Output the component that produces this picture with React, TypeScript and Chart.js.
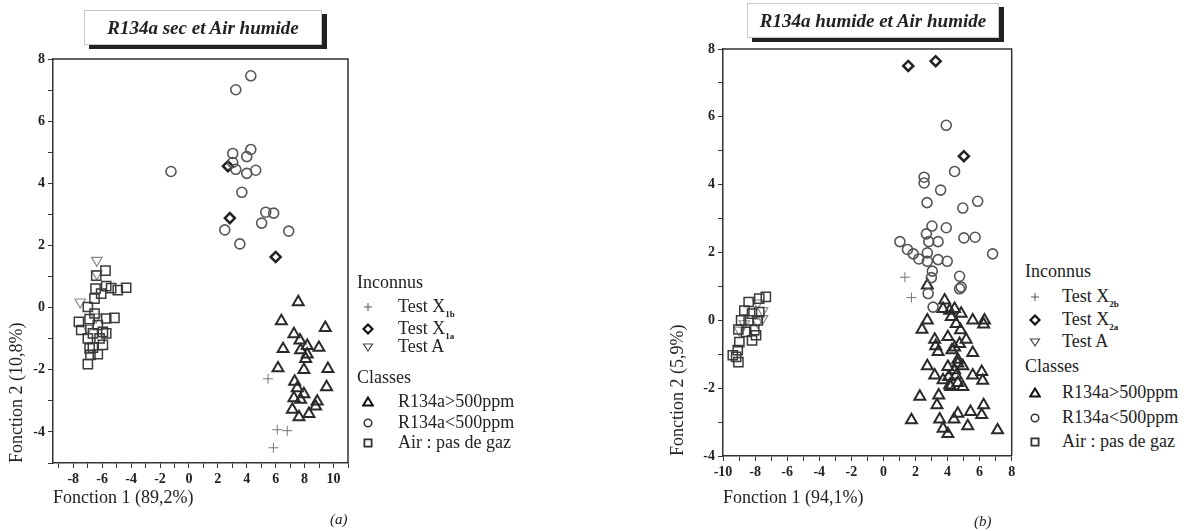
import React, { useEffect, useRef } from 'react';
import { Chart, registerables } from 'chart.js';

Chart.register(...registerables);

type Pt = { x: number; y: number };
const toPts = (a: number[][]): Pt[] => a.map(([x, y]) => ({ x, y }));

// ---------- Chart (a): R134a sec et Air humide ----------
const aTitle = 'R134a sec et Air humide';
const aXTitle = 'Fonction 1 (89,2%)';
const aYTitle = 'Fonction 2 (10,8%)';
const aXRange = [-9.4, 11];
const aYRange = [-5, 8];

const aX1b = [[5.47, -2.29], [6.11, -3.93], [6.8, -3.96], [5.84, -4.51]];
const aX1a = [[2.83, 2.88], [6.0, 1.63], [2.7, 4.55]];
const aTestA = [[-6.37, 1.52], [-6.37, 1.09], [-7.52, 0.18], [-6.41, -0.3], [-6.99, -0.67]];
const aHigh = [
  [7.56, 0.18], [6.39, -0.43], [9.43, -0.65], [7.26, -0.85], [7.68, -1.05], [8.18, -1.23],
  [6.51, -1.33], [8.99, -1.29], [7.72, -1.37], [8.18, -1.5], [8.07, -1.65], [6.16, -1.95],
  [7.95, -2.0], [9.61, -1.97], [7.31, -2.38], [9.52, -2.56], [7.49, -2.59], [7.95, -2.78],
  [7.26, -2.91], [7.72, -2.96], [8.87, -3.02], [8.76, -3.18], [7.15, -3.28], [8.3, -3.42],
  [7.61, -3.52],
];
const aLow = [
  [4.28, 7.46], [3.24, 7.01], [3.03, 4.96], [4.28, 5.09], [4.0, 4.86], [3.03, 4.67],
  [3.24, 4.45], [4.0, 4.32], [4.62, 4.42], [3.66, 3.71], [5.31, 3.07], [5.86, 3.04],
  [5.03, 2.72], [2.48, 2.5], [6.9, 2.46], [3.52, 2.05], [-1.24, 4.38],
];
const aAir = [
  [-5.77, 1.19], [-6.41, 1.03], [-6.46, 0.61], [-5.72, 0.69], [-5.38, 0.63], [-4.92, 0.56],
  [-4.34, 0.64], [-6.07, 0.45], [-6.53, 0.29], [-6.99, 0.02], [-6.53, -0.19], [-5.72, -0.35],
  [-5.15, -0.33], [-6.87, -0.37], [-7.61, -0.46], [-7.45, -0.72], [-6.3, -0.56], [-5.95, -0.78],
  [-6.64, -0.83], [-5.72, -0.83], [-6.99, -0.99], [-6.18, -0.99], [-5.95, -1.2], [-6.64, -1.29],
  [-6.87, -1.31], [-6.3, -1.5], [-6.81, -1.52], [-6.99, -1.82],
];

// ---------- Chart (b): R134a humide et Air humide ----------
const bTitle = 'R134a humide et Air humide';
const bXTitle = 'Fonction 1 (94,1%)';
const bYTitle = 'Fonction 2 (5,9%)';
const bXRange = [-10, 8];
const bYRange = [-4, 8];

const bX2b = [[1.34, 1.27], [1.75, 0.67]];
const bX2a = [[1.55, 7.5], [3.26, 7.64], [5.02, 4.84]];
const bTestA = [[-7.84, 0.51], [-7.53, 0.29], [-7.84, -0.05], [-8.98, -0.29], [-8.67, -0.1], [-7.53, 0.05]];
const bHigh = [
  [2.74, 1.03], [3.82, 0.59], [3.72, 0.34], [4.13, 0.29], [4.44, 0.34], [4.85, 0.2],
  [4.23, 0.1], [4.54, -0.1], [5.57, 0.0], [6.3, 0.0], [6.25, -0.12], [2.74, 0.0],
  [2.41, -0.27], [4.81, -0.29], [4.02, -0.49], [3.2, -0.57], [5.16, -0.57], [4.75, -0.69],
  [3.26, -0.76], [4.44, -0.8], [3.41, -0.93], [4.27, -0.88], [5.57, -0.96], [4.64, -1.16],
  [4.64, -1.27], [4.02, -1.37], [4.95, -1.35], [2.74, -1.35], [4.44, -1.47], [3.2, -1.62],
  [4.07, -1.67], [4.54, -1.62], [5.57, -1.62], [6.13, -1.52], [6.19, -1.78], [3.72, -1.76],
  [4.13, -1.91], [4.64, -1.84], [4.95, -1.96], [4.19, -1.96], [2.27, -2.25], [3.45, -2.21],
  [3.34, -2.5], [1.75, -2.94], [3.51, -2.92], [4.64, -2.75], [4.4, -2.92], [5.43, -2.7],
  [6.25, -2.5], [6.13, -2.79], [3.72, -3.19], [4.02, -3.35], [5.26, -3.12], [7.12, -3.24],
];
const bLow = [
  [3.92, 5.75], [4.44, 4.39], [2.54, 4.22], [2.54, 4.05], [3.57, 3.84], [2.72, 3.47],
  [5.88, 3.51], [4.95, 3.31], [3.03, 2.78], [3.92, 2.73], [2.68, 2.55], [2.83, 2.32],
  [3.41, 2.32], [5.02, 2.43], [5.72, 2.45], [1.03, 2.32], [1.5, 2.09], [1.86, 1.96],
  [2.21, 1.81], [2.74, 1.99], [2.74, 1.74], [3.41, 1.79], [3.98, 1.74], [6.81, 1.96],
  [3.05, 1.45], [2.99, 1.26], [4.75, 1.3], [4.85, 0.98], [4.75, 0.93], [2.79, 0.79],
  [3.1, 0.39],
];
const bAir = [
  [-8.4, 0.54], [-7.74, 0.64], [-7.33, 0.69], [-8.67, 0.29], [-8.19, 0.2], [-7.74, 0.24],
  [-8.87, 0.0], [-8.4, 0.0], [-7.84, 0.0], [-9.04, -0.27], [-8.56, -0.34], [-8.05, -0.29],
  [-7.94, -0.44], [-8.19, -0.59], [-8.98, -0.64], [-9.08, -0.88], [-9.39, -1.03], [-9.18, -1.08],
  [-9.04, -1.23],
];

// ---------- Styling ----------
const SERIF = '"Liberation Serif", "DejaVu Serif", serif';
const TRANSPARENT = 'rgba(0,0,0,0)';

const styles = {
  plus: { pointStyle: 'cross', pointRadius: 5, borderWidth: 1, borderColor: '#777' },
  diamond: { pointStyle: 'rectRot', pointRadius: 5, borderWidth: 2.5, borderColor: '#222' },
  testA: { pointStyle: 'triangle', rotation: 180, pointRadius: 6, borderWidth: 1.2, borderColor: '#888' },
  high: { pointStyle: 'triangle', pointRadius: 6.3, borderWidth: 2, borderColor: '#2a2a2a' },
  low: { pointStyle: 'circle', pointRadius: 5, borderWidth: 1.6, borderColor: '#555' },
  air: { pointStyle: 'rect', pointRadius: 6.5, borderWidth: 1.5, borderColor: '#3a3a3a' },
};

function ds(label: string, data: number[][], st: any) {
  return {
    label,
    data: toPts(data),
    pointStyle: st.pointStyle,
    pointRadius: st.pointRadius,
    pointHoverRadius: st.pointRadius,
    pointRotation: st.rotation || 0,
    pointBorderWidth: st.borderWidth,
    borderColor: st.borderColor,
    pointBorderColor: st.borderColor,
    backgroundColor: TRANSPARENT,
    pointBackgroundColor: TRANSPARENT,
    showLine: false,
  };
}

const framePlugin = {
  id: 'frame',
  afterDraw(chart: any) {
    const { ctx, chartArea } = chart;
    const { left, top, right, bottom } = chartArea;
    ctx.save();
    ctx.strokeStyle = '#333';
    ctx.lineWidth = 1.5;
    ctx.beginPath();
    ctx.moveTo(left, top);
    ctx.lineTo(right, top);
    ctx.lineTo(right, bottom);
    ctx.stroke();
    ctx.restore();
  },
};

const evenLabel = (v: any) => {
  const n = Number(v);
  return Number.isInteger(n) && n % 2 === 0 ? String(n) : '';
};

interface ChartSpec {
  width: number;
  height: number;
  padding: { left: number; right: number; top: number; bottom: number };
  yWidth: number;
  xHeight: number;
  xRange: number[];
  yRange: number[];
  xTitle: string;
  yTitle: string;
  yTitlePad: number;
  xTitlePad: number;
  datasets: any[];
}

function ScatterPanel({ spec, left }: { spec: ChartSpec; left: number }) {
  const ref = useRef<HTMLCanvasElement | null>(null);
  useEffect(() => {
    if (!ref.current) return;
    const tickFont = { family: SERIF, size: 14, weight: 'bold' as const };
    const titleFont = { family: SERIF, size: 18 };
    const chart = new Chart(ref.current, {
      type: 'scatter',
      data: { datasets: spec.datasets },
      options: {
        animation: false,
        responsive: false,
        maintainAspectRatio: false,
        events: [],
        layout: { padding: spec.padding },
        plugins: { legend: { display: false }, tooltip: { enabled: false }, title: { display: false } },
        scales: {
          x: {
            type: 'linear',
            min: spec.xRange[0],
            max: spec.xRange[1],
            afterFit: (s: any) => { s.height = spec.xHeight; },
            grid: { display: true, drawOnChartArea: false, drawTicks: true, tickLength: 5, color: '#333', tickColor: '#333' },
            border: { display: true, color: '#333', width: 1.5 },
            ticks: {
              stepSize: 1,
              autoSkip: false,
              includeBounds: false,
              maxRotation: 0,
              padding: 3,
              color: '#222',
              font: tickFont,
              callback: evenLabel,
            },
            title: {
              display: true,
              text: spec.xTitle,
              align: 'start',
              color: '#222',
              font: titleFont,
              padding: { top: 0, bottom: spec.xTitlePad },
            },
          },
          y: {
            type: 'linear',
            min: spec.yRange[0],
            max: spec.yRange[1],
            afterFit: (s: any) => { s.width = spec.yWidth; },
            grid: { display: true, drawOnChartArea: false, drawTicks: true, tickLength: 5, color: '#333', tickColor: '#333' },
            border: { display: true, color: '#333', width: 1.5 },
            ticks: {
              stepSize: 1,
              autoSkip: false,
              includeBounds: false,
              padding: 3,
              color: '#222',
              font: tickFont,
              callback: evenLabel,
            },
            title: {
              display: true,
              text: spec.yTitle,
              align: 'start',
              color: '#222',
              font: titleFont,
              padding: { top: spec.yTitlePad, bottom: 0 },
            },
          },
        },
      },
      plugins: [framePlugin],
    } as any);
    return () => chart.destroy();
  }, [spec]);
  return (
    <canvas
      ref={ref}
      width={spec.width}
      height={spec.height}
      style={{ position: 'absolute', left, top: 0, width: spec.width, height: spec.height }}
    />
  );
}

function Marker({ kind }: { kind: string }) {
  const s = 12;
  const c = s / 2;
  let shape: any = null;
  if (kind === 'plus') {
    shape = <path d={`M${c - 4} ${c} H${c + 4} M${c} ${c - 4} V${c + 4}`} stroke="#555" strokeWidth={1} fill="none" />;
  } else if (kind === 'diamond') {
    shape = <path d={`M${c} ${c - 4.5} L${c + 4.5} ${c} L${c} ${c + 4.5} L${c - 4.5} ${c} Z`} stroke="#111" strokeWidth={2.2} fill="none" />;
  } else if (kind === 'testA') {
    shape = <path d={`M${c - 4.5} ${c - 3} L${c + 4.5} ${c - 3} L${c} ${c + 4} Z`} stroke="#444" strokeWidth={1.2} fill="none" />;
  } else if (kind === 'high') {
    shape = <path d={`M${c} ${c - 4.5} L${c + 4.8} ${c + 3.5} L${c - 4.8} ${c + 3.5} Z`} stroke="#111" strokeWidth={2} fill="none" />;
  } else if (kind === 'low') {
    shape = <circle cx={c} cy={c} r={3.8} stroke="#333" strokeWidth={1.5} fill="none" />;
  } else {
    shape = <rect x={c - 3.6} y={c - 3.6} width={7.2} height={7.2} stroke="#333" strokeWidth={1.8} fill="none" />;
  }
  return (
    <svg width={s} height={s} style={{ position: 'absolute', left: -6, top: -6 }}>
      {shape}
    </svg>
  );
}

interface LegendRow { kind?: string; text: string; sub?: string; y: number }

function Legend({ x, markerX, textX, rows, fontSize }: { x: number; markerX: number; textX: number; rows: LegendRow[]; fontSize: number }) {
  return (
    <>
      {rows.map((r, i) => (
        <React.Fragment key={i}>
          {r.kind ? (
            <div style={{ position: 'absolute', left: markerX, top: r.y }}>
              <Marker kind={r.kind} />
            </div>
          ) : null}
          <div
            style={{
              position: 'absolute',
              left: r.kind ? textX : x,
              top: r.y - fontSize * 0.62,
              fontFamily: SERIF,
              fontSize,
              color: '#222',
              whiteSpace: 'nowrap',
              lineHeight: 1.2,
            }}
          >
            {r.text}
            {r.sub ? <span style={{ fontSize: 9, fontWeight: 'bold', position: 'relative', top: 5 }}>{r.sub}</span> : null}
          </div>
        </React.Fragment>
      ))}
    </>
  );
}

function TitleBox({ left, top, width, height, text }: { left: number; top: number; width: number; height: number; text: string }) {
  return (
    <div
      style={{
        position: 'absolute',
        left,
        top,
        width,
        height,
        boxSizing: 'border-box',
        border: '1px solid #c8c8c8',
        boxShadow: '5px 4px 0 #222',
        background: '#fff',
        display: 'flex',
        alignItems: 'center',
        justifyContent: 'center',
        fontFamily: SERIF,
        fontStyle: 'italic',
        fontWeight: 'bold',
        fontSize: 19,
        color: '#222',
        whiteSpace: 'nowrap',
      }}
    >
      {text}
    </div>
  );
}

const specA: ChartSpec = {
  width: 360,
  height: 531,
  padding: { left: 0, right: 12, top: 59, bottom: 0 },
  yWidth: 53,
  xHeight: 68,
  xRange: aXRange,
  yRange: aYRange,
  xTitle: aXTitle,
  yTitle: aYTitle,
  yTitlePad: 6,
  xTitlePad: 22,
  datasets: [
    ds('Air : pas de gaz', aAir, styles.air),
    ds('R134a<500ppm', aLow, styles.low),
    ds('R134a>500ppm', aHigh, styles.high),
    ds('Test A', aTestA, styles.testA),
    ds('Test X1a', aX1a, styles.diamond),
    ds('Test X1b', aX1b, styles.plus),
  ],
};

const specB: ChartSpec = {
  width: 460,
  height: 531,
  padding: { left: 100, right: 6, top: 49, bottom: 0 },
  yWidth: 63,
  xHeight: 75,
  xRange: bXRange,
  yRange: bYRange,
  xTitle: bXTitle,
  yTitle: bYTitle,
  yTitlePad: 7,
  xTitlePad: 22,
  datasets: [
    ds('Air : pas de gaz', bAir, styles.air),
    ds('R134a<500ppm', bLow, styles.low),
    ds('R134a>500ppm', bHigh, styles.high),
    ds('Test A', bTestA, styles.testA),
    ds('Test X2a', bX2a, styles.diamond),
    ds('Test X2b', bX2b, styles.plus),
  ],
};

const legendA: LegendRow[] = [
  { text: 'Inconnus', y: 283 },
  { kind: 'plus', text: 'Test X', sub: '1b', y: 307 },
  { kind: 'diamond', text: 'Test X', sub: '1a', y: 329 },
  { kind: 'testA', text: 'Test A', y: 347 },
  { text: 'Classes', y: 378 },
  { kind: 'high', text: 'R134a>500ppm', y: 402 },
  { kind: 'low', text: 'R134a<500ppm', y: 423 },
  { kind: 'air', text: 'Air : pas de gaz', y: 443 },
];

const legendB: LegendRow[] = [
  { text: 'Inconnus', y: 272 },
  { kind: 'plus', text: 'Test X', sub: '2b', y: 297 },
  { kind: 'diamond', text: 'Test X', sub: '2a', y: 320 },
  { kind: 'testA', text: 'Test A', y: 342 },
  { text: 'Classes', y: 367 },
  { kind: 'high', text: 'R134a>500ppm', y: 393 },
  { kind: 'low', text: 'R134a<500ppm', y: 418 },
  { kind: 'air', text: 'Air : pas de gaz', y: 442 },
];

export default function App() {
  return (
    <div style={{ position: 'absolute', left: 0, top: 0, width: 1190, height: 531, background: '#fff', overflow: 'hidden' }}>
      <ScatterPanel spec={specA} left={0} />
      <ScatterPanel spec={specB} left={560} />
      <TitleBox left={84} top={10} width={238} height={35} text={aTitle} />
      <TitleBox left={747} top={3} width={252} height={35} text={bTitle} />
      <Legend x={357} markerX={368} textX={398} rows={legendA} fontSize={18} />
      <Legend x={1025} markerX={1035} textX={1062} rows={legendB} fontSize={18} />
      <div style={{ position: 'absolute', left: 330, top: 511, fontFamily: SERIF, fontStyle: 'italic', fontSize: 15, color: '#222' }}>(a)</div>
      <div style={{ position: 'absolute', left: 974, top: 513, fontFamily: SERIF, fontStyle: 'italic', fontSize: 15, color: '#222' }}>(b)</div>
    </div>
  );
}
